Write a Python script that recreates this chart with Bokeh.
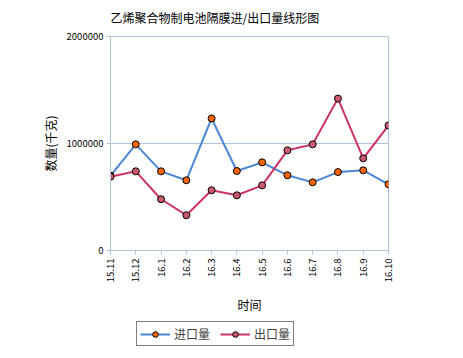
from bokeh.plotting import figure
from bokeh.layouts import column
from bokeh.models import (ColumnDataSource, FixedTicker, Range1d, Legend, LegendItem,
                          BasicTickFormatter)
from bokeh.embed import file_html
from bokeh.resources import INLINE
import math

months = ["15.11", "15.12", "16.1", "16.2", "16.3", "16.4", "16.5", "16.6", "16.7", "16.8", "16.9", "16.10"]
imports = [700000, 992000, 740000, 656000, 1234000, 743000, 824000, 703000, 637000, 733000, 749000, 619000]
exports = [690000, 740000, 479000, 330000, 563000, 516000, 609000, 936000, 992000, 1420000, 861000, 1169000]

title = "乙烯聚合物制电池隔膜进/出口量线形图"
x_label = "时间"
y_label = "数量(千克)"
names = ["进口量", "出口量"]

FONT = "Noto Sans CJK SC"
AX = "#b0c4de"
C_IMP_LINE, C_IMP_MARK = "#4a86d6", "#ff6600"
C_EXP_LINE, C_EXP_MARK = "#cc3366", "#cc5a6e"

xs = list(range(len(months)))
src = ColumnDataSource(dict(x=xs, imp=imports, exp=exports))

p = figure(width=460, height=318, output_backend="svg", toolbar_location=None,
           x_range=Range1d(0, len(months) - 1), y_range=Range1d(0, 2000000),
           min_border_left=110, min_border_right=72, min_border_top=35, min_border_bottom=68)

p.title.text = title
p.title.align = "left"
p.title.offset = 0
p.title.standoff = 17
p.title.vertical_align = "top"
p.title.text_font = FONT
p.title.text_font_size = "12px"
p.title.text_font_style = "normal"
p.title.text_color = "black"

p.outline_line_color = AX
p.background_fill_color = "white"
p.border_fill_color = "white"

p.xgrid.visible = False
p.ygrid.grid_line_color = AX
p.ygrid.ticker = FixedTicker(ticks=[0, 1000000, 2000000])

p.xaxis.ticker = FixedTicker(ticks=xs)
p.xaxis.major_label_overrides = {i: m for i, m in enumerate(months)}
p.xaxis.major_label_orientation = math.pi / 2
p.yaxis.ticker = FixedTicker(ticks=[0, 1000000, 2000000])
p.yaxis.formatter = BasicTickFormatter(use_scientific=False)

for ax in (p.xaxis, p.yaxis):
    ax.axis_line_color = AX
    ax.major_tick_line_color = AX
    ax.major_tick_in = 0
    ax.major_tick_out = 4
    ax.minor_tick_line_color = None
    ax.major_label_text_font = FONT
    ax.major_label_text_font_size = "9.5px"
    ax.major_label_text_color = "black"
    ax.axis_label_text_font = FONT
    ax.axis_label_text_font_size = "12px"
    ax.axis_label_text_font_style = "normal"
    ax.axis_label_text_color = "black"

p.xaxis.axis_label = x_label
p.yaxis.axis_label = y_label
p.xaxis.axis_label_standoff = 11
p.yaxis.axis_label_standoff = 5
p.yaxis.major_label_standoff = 3
p.xaxis.major_label_standoff = 4

p.line("x", "imp", source=src, line_color=C_IMP_LINE, line_width=2)
p.scatter("x", "imp", source=src, size=7, fill_color=C_IMP_MARK, line_color="black", line_width=1)
p.line("x", "exp", source=src, line_color=C_EXP_LINE, line_width=2)
p.scatter("x", "exp", source=src, size=7, fill_color=C_EXP_MARK, line_color="black", line_width=1)

# legend strip below the chart (frame is aligned with the chart's frame)
lf = figure(width=460, height=36, output_backend="svg", toolbar_location=None,
            x_range=Range1d(0, 1), y_range=Range1d(0, 1),
            x_axis_location=None, y_axis_location=None,
            min_border_left=0, min_border_right=0, min_border_top=0, min_border_bottom=0)
lf.grid.visible = False
lf.outline_line_color = None
lf.background_fill_color = "white"
nan = float("nan")
empty = ColumnDataSource(dict(x=[nan], y=[nan]))
a1 = lf.line("x", "y", source=empty, line_color=C_IMP_LINE, line_width=2)
b1 = lf.scatter("x", "y", source=empty, size=7, fill_color=C_IMP_MARK, line_color="black", line_width=1)
a2 = lf.line("x", "y", source=empty, line_color=C_EXP_LINE, line_width=2)
b2 = lf.scatter("x", "y", source=empty, size=7, fill_color=C_EXP_MARK, line_color="black", line_width=1)

legend = Legend(items=[LegendItem(label=names[0], renderers=[a1, b1]),
                       LegendItem(label=names[1], renderers=[a2, b2])],
                location=(26, 8), orientation="horizontal",
                border_line_color="black", border_line_width=1.2,
                label_text_font=FONT, label_text_font_size="12px",
                glyph_width=30, glyph_height=14, spacing=10,
                padding=3, margin=0, label_standoff=4)
lf.add_layout(legend, "center")

layout = column(p, lf, spacing=0)
open("out.html", "w").write(file_html(layout, INLINE))
